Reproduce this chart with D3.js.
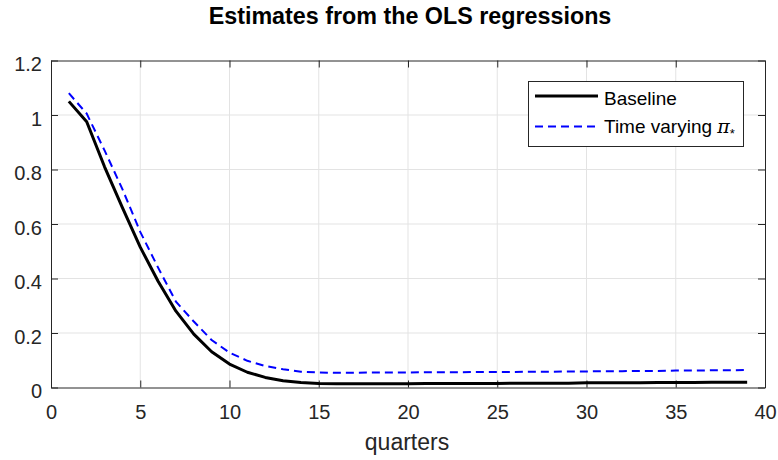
<!DOCTYPE html>
<html>
<head>
<meta charset="utf-8">
<script src="https://cdn.jsdelivr.net/npm/d3@7"></script>
<style>
  html, body { margin: 0; padding: 0; background: #ffffff; }
  svg { display: block; font-family: "Liberation Sans", Arial, Helvetica, sans-serif; }
</style>
</head>
<body>
<svg id="chart" width="778" height="460"></svg>
<script>
// Horizon in quarters
const quarters = d3.range(1, 40);

// Impulse response estimates
const baseline = [
  1.05, 0.975, 0.81, 0.66, 0.515, 0.39, 0.28, 0.196, 0.131, 0.086,
  0.056, 0.037, 0.025, 0.018, 0.015, 0.014, 0.014, 0.014, 0.014, 0.014,
  0.015, 0.015, 0.015, 0.015, 0.015, 0.016, 0.016, 0.016, 0.016, 0.017,
  0.017, 0.017, 0.017, 0.018, 0.018, 0.018, 0.019, 0.019, 0.019
];
const timeVarying = [
  1.08, 1.005, 0.87, 0.728, 0.571, 0.44, 0.315, 0.242, 0.174, 0.128,
  0.098, 0.079, 0.067, 0.058, 0.055, 0.054, 0.054, 0.055, 0.055, 0.055,
  0.056, 0.056, 0.056, 0.057, 0.057, 0.057, 0.058, 0.058, 0.059, 0.059,
  0.060, 0.060, 0.061, 0.061, 0.062, 0.062, 0.063, 0.063, 0.064
];

const xTicks = [0, 5, 10, 15, 20, 25, 30, 35, 40];
const yTicks = [0, 0.2, 0.4, 0.6, 0.8, 1, 1.2];

const titleText = "Estimates from the OLS regressions";
const xLabelText = "quarters";

const svg = d3.select("#chart");
const margin = { left: 51, right: 13, top: 60.5, bottom: 72.5 };
const W = 778, H = 460;
const x = d3.scaleLinear().domain([0, 40]).range([margin.left, W - margin.right]);
const y = d3.scaleLinear().domain([0, 1.2]).range([H - margin.bottom, margin.top]);

const axisColor = "#262626";
const gridColor = "#e3e3e3";

// Grid
const grid = svg.append("g");
grid.selectAll("line.gx").data(xTicks.slice(1, -1)).join("line")
  .attr("x1", d => x(d)).attr("x2", d => x(d))
  .attr("y1", y(0)).attr("y2", y(1.2))
  .attr("stroke", gridColor).attr("stroke-width", 1);
grid.selectAll("line.gy").data(yTicks.slice(1, -1)).join("line")
  .attr("y1", d => y(d)).attr("y2", d => y(d))
  .attr("x1", x(0)).attr("x2", x(40))
  .attr("stroke", gridColor).attr("stroke-width", 1);

// Axes with inward ticks on all four sides
const tickLen = 7;
const axB = svg.append("g").attr("transform", `translate(0,${y(0)})`)
  .call(d3.axisBottom(x).tickValues(xTicks).tickSizeInner(-tickLen).tickSizeOuter(0).tickPadding(17).tickFormat(d3.format("d")));
const axT = svg.append("g").attr("transform", `translate(0,${y(1.2)})`)
  .call(d3.axisTop(x).tickValues(xTicks).tickSizeInner(-tickLen).tickSizeOuter(0).tickFormat(""));
const axL = svg.append("g").attr("transform", `translate(${x(0)},0)`)
  .call(d3.axisLeft(y).tickValues(yTicks).tickSizeInner(-tickLen).tickSizeOuter(0).tickPadding(9).tickFormat(d => d3.format("")(+d.toFixed(1))));
const axR = svg.append("g").attr("transform", `translate(${x(40)},0)`)
  .call(d3.axisRight(y).tickValues(yTicks).tickSizeInner(-tickLen).tickSizeOuter(0).tickFormat(""));

[axB, axT, axL, axR].forEach(g => {
  g.select(".domain").attr("stroke", axisColor).attr("stroke-width", 1);
  g.selectAll(".tick line").attr("stroke", axisColor).attr("stroke-width", 1);
  g.selectAll(".tick text").attr("fill", axisColor).style("font-size", "20px")
    .style("font-family", "'Liberation Sans', Arial, sans-serif");
});
axL.selectAll(".tick text").attr("dy", "0.5em");
axB.selectAll(".tick text").attr("dy", "0.72em");

// Series
const line = d3.line().x((d, i) => x(quarters[i])).y(d => y(d));

svg.append("path").datum(timeVarying)
  .attr("d", line).attr("fill", "none")
  .attr("stroke", "#0000ff").attr("stroke-width", 2)
  .attr("stroke-dasharray", "8,5");

svg.append("path").datum(baseline)
  .attr("d", line).attr("fill", "none")
  .attr("stroke", "#000000").attr("stroke-width", 3)
  .attr("stroke-linejoin", "round");

// Title and axis label
svg.append("text").attr("x", (x(0) + x(40)) / 2 + 2).attr("y", 24)
  .attr("text-anchor", "middle").attr("fill", "#000")
  .style("font-size", "23.3px").style("font-weight", "bold")
  .text(titleText);

svg.append("text").attr("x", (x(0) + x(40)) / 2 - 1).attr("y", 450)
  .attr("text-anchor", "middle").attr("fill", axisColor)
  .style("font-size", "23px")
  .text(xLabelText);

// Legend
const lg = svg.append("g");
lg.append("rect").attr("x", 528.5).attr("y", 81.5).attr("width", 215).attr("height", 65)
  .attr("fill", "#fff").attr("stroke", axisColor).attr("stroke-width", 1);
lg.append("line").attr("x1", 535).attr("x2", 598).attr("y1", 96).attr("y2", 96)
  .attr("stroke", "#000").attr("stroke-width", 3);
lg.append("line").attr("x1", 535).attr("x2", 598).attr("y1", 126.5).attr("y2", 126.5)
  .attr("stroke", "#0000ff").attr("stroke-width", 2).attr("stroke-dasharray", "8,5");
lg.append("text").attr("x", 604).attr("y", 105).attr("fill", "#000")
  .style("font-size", "19px").text("Baseline");
const t2 = lg.append("text").attr("x", 604).attr("y", 133).attr("fill", "#000")
  .style("font-size", "19px");
t2.append("tspan").text("Time varying ");
t2.append("tspan").style("font-family", "'DejaVu Serif', serif").style("font-style", "italic").text("π");
t2.append("tspan").attr("dy", 5).style("font-size", "13px").text("*");
</script>
</body>
</html>
